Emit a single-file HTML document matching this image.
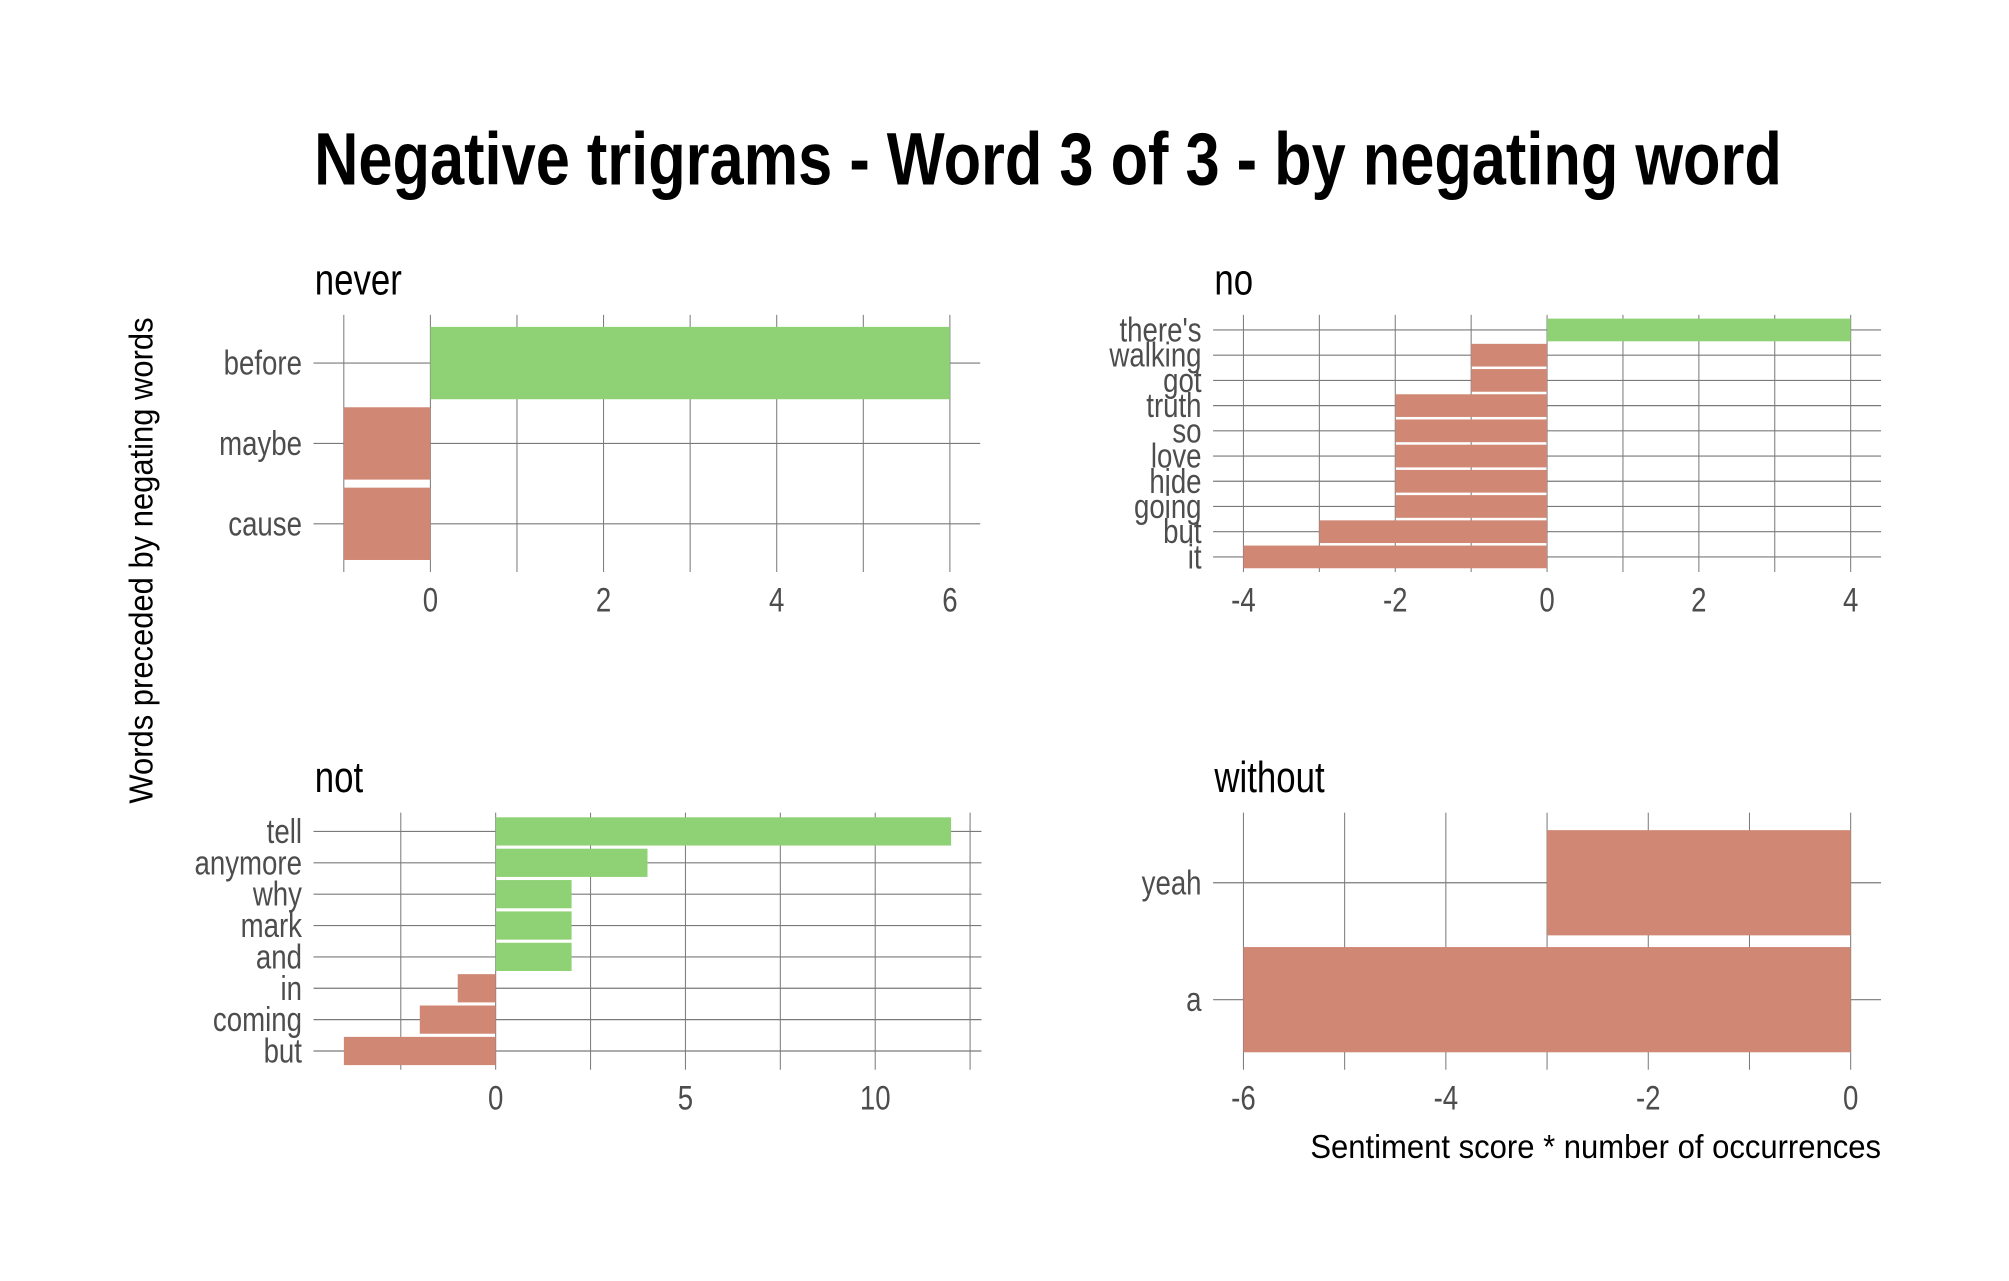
<!DOCTYPE html>
<html><head><meta charset="utf-8"><style>
html,body{margin:0;padding:0;background:#fff;}
svg{display:block;}
text{font-family:"Liberation Sans Narrow","Liberation Sans",sans-serif;}
</style></head><body>
<svg id="chart" width="2009" height="1281" viewBox="0 -3 1570 1001" xmlns="http://www.w3.org/2000/svg">
<rect y="-3" width="1570" height="1001" fill="#fff"/>
<text x="819" y="141" text-anchor="middle" font-size="58" font-weight="bold" textLength="1147" lengthAdjust="spacingAndGlyphs">Negative trigrams - Word 3 of 3 - by negating word</text>
<text transform="translate(119,435) rotate(-90)" text-anchor="middle" font-size="26" textLength="380" lengthAdjust="spacingAndGlyphs">Words preceded by negating words</text>
<text x="1470" y="902" text-anchor="end" font-size="26" textLength="446" lengthAdjust="spacingAndGlyphs">Sentiment score * number of occurrences</text>
<g id="panels"></g>
</svg>
<script>
// never
const neverWords = ["cause","maybe","before"];
const neverValues = [-1,-1,6];
const neverTicks = [0,2,4,6];
const neverMinor = [-1,1,3,5];
// no
const noWords = ["it","but","going","hide","love","so","truth","got","walking","there's"];
const noValues = [-4,-3,-2,-2,-2,-2,-2,-1,-1,4];
const noTicks = [-4,-2,0,2,4];
const noMinor = [-3,-1,1,3];
// not
const notWords = ["but","coming","in","and","mark","why","anymore","tell"];
const notValues = [-4,-2,-1,2,2,2,4,12];
const notTicks = [0,5,10];
const notMinor = [-2.5,2.5,7.5,12.5];
// without
const withoutWords = ["a","yeah"];
const withoutValues = [-6,-3];
const withoutTicks = [-6,-4,-2,0];
const withoutMinor = [-5,-3,-1];

const NS = "http://www.w3.org/2000/svg";
const root = document.getElementById("panels");
function mk(tag, attrs, parent){
  const e = document.createElementNS(NS, tag);
  for (const k in attrs) e.setAttribute(k, attrs[k]);
  parent.appendChild(e);
  return e;
}
function narrow(t, f){
  const w = t.getComputedTextLength();
  if (w > 0) { t.setAttribute("textLength", w * f); t.setAttribute("lengthAdjust", "spacingAndGlyphs"); }
}
function panel(name, words, values, ticks, minor, box){
  const g = mk("g", {}, root);
  
  
  const lo = Math.min(0, ...values), hi = Math.max(0, ...values);
  const pad = (hi - lo) * 0.05;
  const d0 = lo - pad, d1 = hi + pad;
  const xs = v => box.x0 + (v - d0) / (d1 - d0) * (box.x1 - box.x0);
  const n = words.length;
  const unit = (box.y1 - box.y0) / (n - 1 + 1.2);
  const yc = i => box.y1 - (i + 0.6) * unit;
  const t = mk("text", {x: box.x0 + 1, y: box.y0 - 16, "font-size": 34, fill: "#000"}, g);
  t.textContent = name;
  
  
  narrow(t, 0.8);
  minor.concat(ticks).forEach(v => {
    const l = mk("line", {x1: xs(v), x2: xs(v), y1: box.y0, y2: box.y1, stroke: "#7a7a7a", "stroke-width": 0.8}, g);
    
    
  });
  words.forEach((w, i) => {
    const l = mk("line", {x1: box.x0, x2: box.x1, y1: yc(i), y2: yc(i), stroke: "#7a7a7a", "stroke-width": 0.9}, g);
    
    
  });
  words.forEach((w, i) => {
    const v = values[i];
    const a = xs(Math.min(0, v)), b = xs(Math.max(0, v));
    const r = mk("rect", {x: a, y: yc(i) - 0.45 * unit, width: b - a, height: 0.9 * unit, fill: v > 0 ? "#8fd175" : "#d08875"}, g);
    
    
    const lb = mk("text", {x: box.x0 - 9, y: yc(i) + 9, "text-anchor": "end", "font-size": 27, fill: "#4d4d4d"}, g);
    lb.textContent = w;
    
    
    narrow(lb, 0.8);
  });
  ticks.forEach(v => {
    const tl = mk("text", {x: xs(v), y: box.y1 + 31, "text-anchor": "middle", "font-size": 27, fill: "#4d4d4d"}, g);
    tl.textContent = v < 0 ? "-" + Math.abs(v) : String(v);
    
    
    narrow(tl, 0.8);
  });
}
panel("never", neverWords, neverValues, neverTicks, neverMinor, {x0:245, x1:766, y0:243, y1:444});
panel("no", noWords, noValues, noTicks, noMinor, {x0:948, x1:1470, y0:243, y1:444});
panel("not", notWords, notValues, notTicks, notMinor, {x0:245, x1:767, y0:632, y1:833});
panel("without", withoutWords, withoutValues, withoutTicks, withoutMinor, {x0:948, x1:1470, y0:632, y1:833});
</script>
</body></html>
